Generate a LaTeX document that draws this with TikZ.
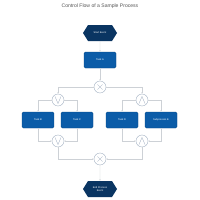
\documentclass[tikz,border=0pt]{standalone}
\usepackage{fontspec}
\setmainfont{Liberation Sans}
\usepackage{tikz}
\usetikzlibrary{arrows.meta,positioning,shapes.symbols,calc}

\definecolor{evnavy}{HTML}{0A3562}
\definecolor{taskblue}{HTML}{0B5CA8}
\definecolor{flowgrey}{HTML}{CDD1D6}
\definecolor{gwgrey}{HTML}{9AA9BD}
\definecolor{titlegrey}{HTML}{555555}

\begin{document}
\begin{tikzpicture}[
  x=0.05cm, y=-0.05cm,
  font=\fontsize{3.6}{4.2}\selectfont,
  ev/.style={signal, signal to=east and west, signal pointer angle=116, fill=evnavy, text=white,
    minimum width=1.7cm, minimum height=0.8cm, inner sep=0pt, align=center},
  task/.style={draw=taskblue!80!black, fill=taskblue, text=white, rounded corners=2pt,
    minimum width=1.6cm, minimum height=0.8cm, inner sep=0pt, align=center},
  gw/.style={circle, draw=gwgrey, fill=white, line width=0.45pt, minimum size=0.6cm, inner sep=0pt},
  sym/.style={draw=gwgrey, line width=0.45pt},
  flow/.style={draw=flowgrey, line width=0.5pt, -{Latex[length=0.7mm,width=0.6mm]}},
  flowplain/.style={draw=flowgrey, line width=0.5pt}
]
\useasboundingbox[fill=white] (0,0) rectangle (200,200);

\node[text=titlegrey, font=\fontsize{7.2}{8}\selectfont] (title) at (100,6) {Control Flow of a Sample Process};

% events and tasks
\node[ev]   (start) at (100,33)  {Start Event};
\node[task] (taskA) at (100,60)  {Task A};
\node[task] (taskB) at (38,120)  {Task B};
\node[task] (taskC) at (77,120)  {Task C};
\node[task] (taskD) at (122,120) {Task D};
\node[task] (subE)  at (161,120) {Subprocess E};
\node[ev]   (end)   at (100,189) {End Process\\Event};

% gateways
\node[gw] (xsplit) at (100,87)  {};
\node[gw] (orsplit) at (58,100) {};
\node[gw] (andsplit) at (142,100) {};
\node[gw] (orjoin) at (58,141)  {};
\node[gw] (andjoin) at (142,141) {};
\node[gw] (xjoin) at (100,159)  {};

\foreach \g in {xsplit,xjoin}{
  \draw[sym] (\g.center) ++(-2.6,-2.6) -- ++(5.2,5.2);
  \draw[sym] (\g.center) ++(2.6,-2.6) -- ++(-5.2,5.2);
}
\foreach \g in {orsplit,orjoin}
  \draw[sym] (\g.center) ++(-3,-3.5) -- ++(3,7) -- ++(3,-7);
\foreach \g in {andsplit,andjoin}
  \draw[sym] (\g.center) ++(-3,3.5) -- ++(3,-7) -- ++(3,7);

% connectors
\draw[flow] (start) -- (taskA);
\draw[flow] (taskA) -- (xsplit);
\draw[flow] (xsplit.west) -| (orsplit.north);
\draw[flow] (xsplit.east) -| (andsplit.north);
\draw[flow] (orsplit.west) -| (taskB.north);
\draw[flow] (orsplit.east) -| (taskC.north);
\draw[flow] (andsplit.west) -| (taskD.north);
\draw[flow] (andsplit.east) -| (subE.north);
\draw[flow] (taskB.south) |- (orjoin.west);
\draw[flow] (taskC.south) |- (orjoin.east);
\draw[flow] (taskD.south) |- (andjoin.west);
\draw[flow] (subE.south) |- (andjoin.east);
\draw[flow] (orjoin.south) |- (xjoin.west);
\draw[flow] (andjoin.south) |- (xjoin.east);
\draw[flow] (xjoin) -- (end);

\end{tikzpicture}
\end{document}
